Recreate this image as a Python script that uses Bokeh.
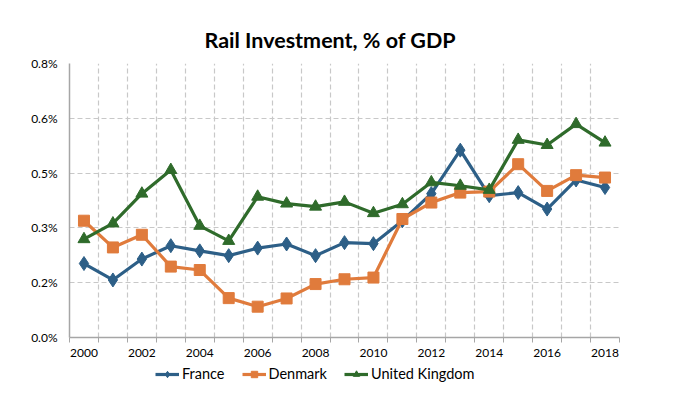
from bokeh.plotting import figure
from bokeh.layouts import column
from bokeh.models import FixedTicker, Legend, LegendItem, Range1d
from bokeh.embed import file_html
from bokeh.resources import INLINE

years = list(range(2000, 2019))
france = [0.216, 0.168, 0.229, 0.268, 0.253, 0.239, 0.261, 0.273, 0.239, 0.277,
          0.274, 0.341, 0.420, 0.547, 0.414, 0.423, 0.375, 0.460, 0.438]
denmark = [0.341, 0.263, 0.300, 0.207, 0.197, 0.115, 0.090, 0.114, 0.156, 0.170,
           0.175, 0.346, 0.394, 0.423, 0.426, 0.506, 0.428, 0.474, 0.467]
uk = [0.287, 0.333, 0.420, 0.489, 0.326, 0.282, 0.411, 0.391, 0.382, 0.396,
      0.363, 0.389, 0.453, 0.443, 0.431, 0.577, 0.562, 0.623, 0.569]
y_ticks = [0.0, 0.16, 0.32, 0.48, 0.64, 0.8]
y_labels = ["0.0%", "0.2%", "0.3%", "0.5%", "0.6%", "0.8%"]
x_label_years = years[::2]

FONT = "Lato"
BLUE = "#2D5F87"
ORANGE = "#E07B3C"
GREEN = "#2F6B2B"

series = [
    ("France", france, BLUE, "diamond", 14),
    ("Denmark", denmark, ORANGE, "square", 11),
    ("United Kingdom", uk, GREEN, "triangle", 12),
]

p = figure(width=664, height=362, output_backend="svg", toolbar_location=None,
           x_range=Range1d(years[0] - 0.5, years[-1] + 0.5),
           y_range=Range1d(0, 0.8),
           min_border_left=69, min_border_right=45, min_border_top=63, min_border_bottom=25)
p.outline_line_color = None

p.title.text = "Rail Investment, % of GDP"
p.title.text_font = FONT
p.title.text_font_size = "21.5px"
p.title.text_font_style = "bold"
p.title.align = "left"
p.title.offset = 135
p.title.text_color = "#000000"
p.title.standoff = 22

boundaries = [y - 0.5 for y in years] + [years[-1] + 0.5]

p.xaxis.ticker = FixedTicker(ticks=x_label_years, minor_ticks=boundaries)
p.xaxis.major_tick_line_color = None
p.xaxis.major_tick_out = 0
p.xaxis.major_tick_in = 0
p.xaxis.minor_tick_line_color = "#A6A6A6"
p.xaxis.minor_tick_out = 5
p.xaxis.minor_tick_in = 0
p.xaxis.axis_line_color = "#A6A6A6"
p.xaxis.axis_line_width = 1.5
p.xaxis.major_label_text_font = FONT
p.xaxis.major_label_text_font_size = "12px"
p.xaxis.major_label_text_color = "#000000"
p.xaxis.major_label_standoff = 6

p.yaxis.ticker = FixedTicker(ticks=y_ticks)
p.yaxis.major_label_overrides = {t: l for t, l in zip(y_ticks, y_labels)}
p.yaxis.major_tick_line_color = None
p.yaxis.major_tick_out = 0
p.yaxis.major_tick_in = 0
p.yaxis.minor_tick_line_color = None
p.yaxis.axis_line_color = "#A6A6A6"
p.yaxis.axis_line_width = 1.5
p.yaxis.major_label_text_font = FONT
p.yaxis.major_label_text_font_size = "12px"
p.yaxis.major_label_text_color = "#000000"
p.yaxis.major_label_standoff = 12

p.xgrid.ticker = FixedTicker(ticks=boundaries)
for g in (p.xgrid, p.ygrid):
    g.grid_line_color = "#C8C8C8"
    g.grid_line_dash = "5 3"
    g.grid_line_width = 1.2

for name, vals, color, marker, size in series:
    p.line(years, vals, line_color=color, line_width=3.2)
    p.scatter(years, vals, marker=marker, size=size, fill_color=color, line_color=color)

# legend strip below the chart (its renderers' data lies outside its ranges)
lf = figure(width=664, height=34, output_backend="svg", toolbar_location=None,
            x_range=Range1d(0, 1), y_range=Range1d(0, 1),
            min_border_left=0, min_border_right=0, min_border_top=0, min_border_bottom=0)
lf.axis.visible = False
lf.grid.visible = False
lf.outline_line_color = None
items = []
for name, vals, color, marker, size in series:
    ln = lf.line(years, vals, line_color=color, line_width=3.2)
    sc = lf.scatter(years, vals, marker=marker, size=size, fill_color=color, line_color=color)
    items.append(LegendItem(label=name, renderers=[ln, sc]))
legend = Legend(items=items, orientation="horizontal", location=(86, 14),
                label_text_font=FONT, label_text_font_size="14.5px",
                label_text_color="#000000", border_line_color=None,
                background_fill_alpha=0, glyph_width=24, glyph_height=16, spacing=17,
                padding=2, margin=0, label_standoff=3)
lf.add_layout(legend, "center")

open("out.html", "w").write(file_html(column(p, lf, spacing=0), INLINE))
